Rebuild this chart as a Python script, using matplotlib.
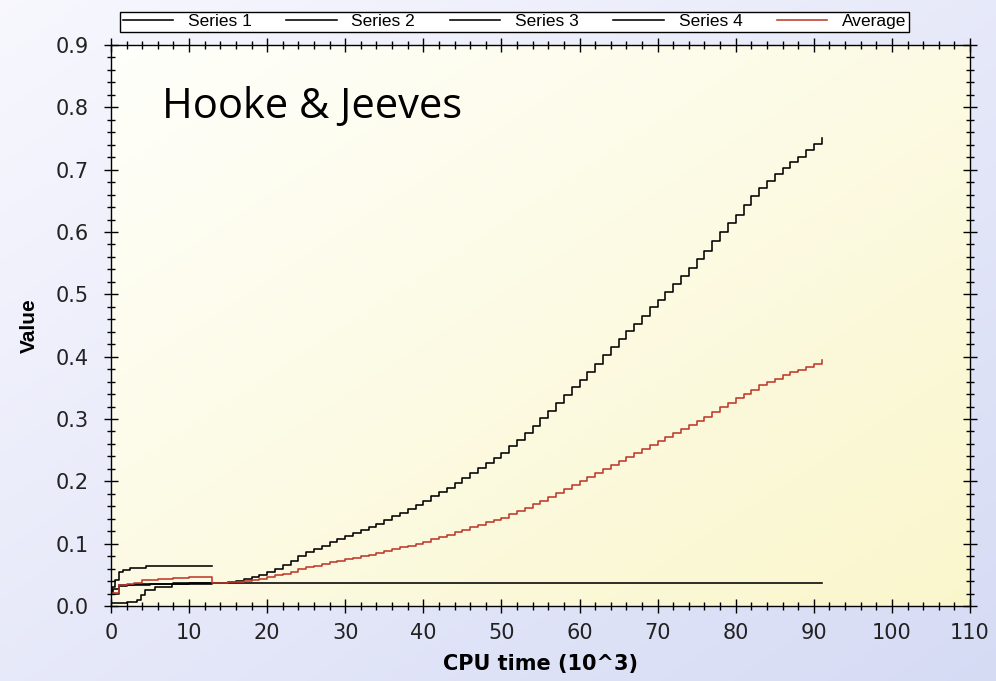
import numpy as np
import matplotlib
matplotlib.use('Agg')
import matplotlib.pyplot as plt
from matplotlib.ticker import MultipleLocator

# Series 1 / Series 2: short runs stopped at 13k
s1_t = [0, 0.1, 0.5, 1, 1.5, 2.5, 4.5, 13]
s1_v = [0.021, 0.030, 0.042, 0.055, 0.058, 0.061, 0.064, 0.064]

s2_t = [0, 2, 3.3, 3.8, 4.4, 5.6, 7.8, 10, 13]
s2_v = [0.005, 0.006, 0.010, 0.018, 0.026, 0.030, 0.035, 0.036, 0.037]

# Series 3: stalls almost immediately
s3_t = [0, 0.3, 1, 2, 5, 10, 91]
s3_v = [0.020, 0.028, 0.032, 0.034, 0.035, 0.037, 0.037]

# Series 4 and the average, sampled every 1k of CPU time (0..91)
t_long = np.arange(0, 92)
s4_v = [0.020, 0.033, 0.034, 0.035, 0.035, 0.036, 0.036, 0.036, 0.037, 0.037,
        0.037, 0.037, 0.037, 0.037, 0.037, 0.038, 0.040, 0.043, 0.046, 0.050,
        0.054, 0.060, 0.066, 0.073, 0.080, 0.086, 0.091, 0.097, 0.102, 0.107,
        0.112, 0.117, 0.122, 0.127, 0.132, 0.138, 0.144, 0.150, 0.156, 0.162,
        0.169, 0.176, 0.183, 0.190, 0.198, 0.206, 0.214, 0.222, 0.230, 0.238,
        0.246, 0.256, 0.266, 0.277, 0.289, 0.301, 0.313, 0.326, 0.339, 0.351,
        0.363, 0.376, 0.389, 0.402, 0.415, 0.428, 0.441, 0.453, 0.466, 0.479,
        0.491, 0.504, 0.517, 0.530, 0.543, 0.556, 0.570, 0.585, 0.600, 0.614,
        0.628, 0.643, 0.657, 0.670, 0.682, 0.693, 0.702, 0.712, 0.721, 0.731,
        0.741, 0.751]
avg_v = [0.021, 0.033, 0.036, 0.037, 0.041, 0.042, 0.043, 0.044, 0.045, 0.045,
         0.046, 0.046, 0.046, 0.037, 0.037, 0.038, 0.039, 0.040, 0.042, 0.044,
         0.046, 0.049, 0.052, 0.055, 0.059, 0.062, 0.064, 0.067, 0.070, 0.073,
         0.075, 0.077, 0.080, 0.082, 0.085, 0.088, 0.091, 0.094, 0.097, 0.100,
         0.103, 0.107, 0.110, 0.114, 0.118, 0.122, 0.126, 0.130, 0.134, 0.138,
         0.142, 0.147, 0.152, 0.157, 0.163, 0.169, 0.175, 0.182, 0.188, 0.194,
         0.200, 0.207, 0.213, 0.220, 0.226, 0.233, 0.239, 0.245, 0.252, 0.258,
         0.264, 0.271, 0.277, 0.284, 0.290, 0.297, 0.304, 0.311, 0.319, 0.326,
         0.333, 0.340, 0.347, 0.354, 0.360, 0.365, 0.370, 0.375, 0.379, 0.384,
         0.389, 0.394]

x_ticks = [0, 10, 20, 30, 40, 50, 60, 70, 80, 90, 100, 110]
y_ticks = [0.0, 0.1, 0.2, 0.3, 0.4, 0.5, 0.6, 0.7, 0.8, 0.9]


def gradient(c0, c1, n=256):
    # diagonal blend from top-left colour c0 to bottom-right colour c1
    u = np.linspace(0, 1, n)
    w = (u[None, :] + u[:, None]) / 2
    c0 = np.array(c0)[None, None, :]
    c1 = np.array(c1)[None, None, :]
    return c0 * (1 - w[..., None]) + c1 * w[..., None]


fig = plt.figure(figsize=(9.96, 6.81), dpi=100)

bg = fig.add_axes([0, 0, 1, 1], zorder=-1)
bg.imshow(gradient((0.97, 0.97, 0.995), (0.84, 0.86, 0.96)), aspect='auto',
          extent=[0, 1, 0, 1])
bg.axis('off')

ax = fig.add_axes([0.1114, 0.1101, 0.8625, 0.8238])
ax.set_xlim(0, 110)
ax.set_ylim(0, 0.9)
ax.patch.set_alpha(0)
ax.imshow(gradient((1.0, 1.0, 0.985), (0.98, 0.965, 0.80)), aspect='auto',
          extent=[0, 110, 0, 0.9], zorder=0)

lw = 1.15
ax.plot(s1_t, s1_v, color='black', lw=lw, drawstyle='steps-post', label='Series 1')
ax.plot(s2_t, s2_v, color='black', lw=lw, drawstyle='steps-post', label='Series 2')
ax.plot(s3_t, s3_v, color='black', lw=lw, drawstyle='steps-post', label='Series 3')
ax.plot(t_long, s4_v, color='black', lw=lw, drawstyle='steps-post', label='Series 4')
ax.plot(t_long, avg_v, color='#c0392b', lw=lw, drawstyle='steps-post', label='Average')

ax.set_xticks(x_ticks)
ax.set_yticks(y_ticks)
ax.set_yticklabels([f'{v:.1f}' for v in y_ticks])
ax.xaxis.set_minor_locator(MultipleLocator(2))
ax.yaxis.set_minor_locator(MultipleLocator(0.02))
ax.tick_params(which='both', direction='inout', top=True, right=True,
               color='black', width=1)
ax.tick_params(which='major', length=10, labelsize=15, labelcolor='#222222')
ax.tick_params(which='minor', length=6)
ax.tick_params(axis='x', pad=7)
ax.tick_params(axis='y', pad=11)
for s in ax.spines.values():
    s.set_color('black')
    s.set_linewidth(1)

ax.set_xlabel('CPU time (10^3)', fontsize=15, fontweight='bold', labelpad=8)
ax.set_ylabel('Value', fontsize=15, fontweight='bold',
              family='Liberation Sans', labelpad=12)

ax.text(6.6, 0.783, 'Hooke & Jeeves', fontsize=30, family='Open Sans',
        color='black', va='baseline')

leg = fig.legend(loc='center', bbox_to_anchor=(0.5166, 0.968), ncol=5,
                 frameon=True, fancybox=False, edgecolor='black', framealpha=1,
                 borderpad=0.15, handlelength=2.9, handletextpad=0.85,
                 columnspacing=2.0, prop={'family': 'Liberation Sans', 'size': 12.5})
leg.get_frame().set_linewidth(1)

fig.savefig('out.png', dpi=100)
